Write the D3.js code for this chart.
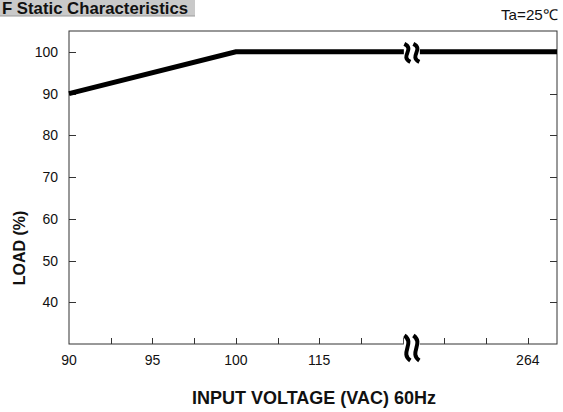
<!DOCTYPE html>
<html>
<head>
<meta charset="utf-8">
<script src="https://cdn.jsdelivr.net/npm/d3@7"></script>
<style>
  body { margin: 0; background: #fff; }
  text { font-family: "Liberation Sans Narrow", "Liberation Sans", Arial, sans-serif; }
</style>
</head>
<body>
<div id="root"></div>
<script>
// x axis is not linear in volts: positions are tick slots, with a break after 115
const xTickSlots = [0, 1, 2, 3, 4, 5, 6, 7, 8, 9, 10, 11];
const xLabels = [{slot: 0, text: "90"}, {slot: 2, text: "95"}, {slot: 4, text: "100"},
                 {slot: 6, text: "115"}, {slot: 11, text: "264"}];
const xBreakSlot = 8.22;
const yTicks = [40, 50, 60, 70, 80, 90, 100];
// load curve (slot, load %)
const curveSlots = [0, 4, 11.7];
const curveLoad = [90, 100, 100];

const W = 563, H = 412;
const margin = {left: 69, right: 6, top: 31, bottom: 68};

const svg = d3.select('#root').append('svg')
  .attr('width', W).attr('height', H);

const x = d3.scaleLinear().domain([0, 11.7]).range([margin.left, W - margin.right]);
const y = d3.scaleLinear().domain([30, 105]).range([H - margin.bottom, margin.top]);

// title tab
svg.append('rect').attr('x', 0).attr('y', 0).attr('width', 195).attr('height', 16)
  .attr('fill', '#c9c9c9');
svg.append('line').attr('x1', 0).attr('x2', 195).attr('y1', 16).attr('y2', 16)
  .attr('stroke', '#9a9a9a');
svg.append('text').attr('x', 2).attr('y', 14)
  .attr('font-size', 17).attr('font-weight', 'bold').attr('fill', '#111')
  .attr('textLength', 186).attr('lengthAdjust', 'spacingAndGlyphs')
  .text('F Static Characteristics');

svg.append('text').attr('x', 558).attr('y', 20).attr('text-anchor', 'end')
  .attr('font-size', 15).attr('fill', '#111')
  .attr('textLength', 57).attr('lengthAdjust', 'spacingAndGlyphs')
  .text('Ta=25\u2103');

// frame
svg.append('rect')
  .attr('x', x(0)).attr('y', y(105))
  .attr('width', x(11.7) - x(0)).attr('height', y(30) - y(105))
  .attr('fill', 'none').attr('stroke', '#333').attr('stroke-width', 1);

// ticks inward
const g = svg.append('g').attr('stroke', '#333').attr('stroke-width', 1);
g.selectAll('.yl').data(yTicks).enter().append('line')
  .attr('x1', x(0)).attr('x2', x(0) + 7)
  .attr('y1', d => Math.round(y(d)) + 0.5).attr('y2', d => Math.round(y(d)) + 0.5);
g.selectAll('.yr').data(yTicks).enter().append('line')
  .attr('x1', x(11.7)).attr('x2', x(11.7) - 7)
  .attr('y1', d => Math.round(y(d)) + 0.5).attr('y2', d => Math.round(y(d)) + 0.5);
g.selectAll('.xb').data(xTickSlots.slice(1)).enter().append('line')
  .attr('x1', d => Math.round(x(d)) + 0.5).attr('x2', d => Math.round(x(d)) + 0.5)
  .attr('y1', y(30)).attr('y2', y(30) - 6);

// tick labels
svg.selectAll('.ylab').data(yTicks).enter().append('text')
  .attr('x', x(0) - 11).attr('y', d => y(d) + 5)
  .attr('text-anchor', 'end').attr('font-size', 14).attr('fill', '#111')
  .text(d => d);
svg.selectAll('.xlab').data(xLabels).enter().append('text')
  .attr('x', d => x(d.slot)).attr('y', y(30) + 21)
  .attr('text-anchor', 'middle').attr('font-size', 14).attr('fill', '#111')
  .text(d => d.text);

// load line
const line = d3.line().x(d => x(d[0])).y(d => y(d[1]));
svg.append('path')
  .datum(d3.zip(curveSlots, curveLoad))
  .attr('d', line)
  .attr('fill', 'none').attr('stroke', '#000').attr('stroke-width', 5)
  .attr('stroke-linejoin', 'miter');

// axis break marks
function breakMark(cx, cy, h) {
  const bg = svg.append('g');
  bg.append('rect').attr('x', cx - 8).attr('y', cy - h / 2).attr('width', 16).attr('height', h)
    .attr('fill', '#fff');
  [-4.5, 4.5].forEach(dx => {
    const x0 = cx + dx;
    bg.append('path')
      .attr('d', `M${x0 - 3},${cy - h / 2} C${x0 + 8},${cy - h / 5} ${x0 - 8},${cy + h / 5} ${x0 + 3},${cy + h / 2}`)
      .attr('fill', 'none').attr('stroke', '#000').attr('stroke-width', 4);
  });
}
breakMark(x(xBreakSlot), y(100) + 1, 18);
breakMark(x(xBreakSlot), y(30) + 4, 25);

// axis titles
svg.append('text').attr('x', (x(0) + x(11.7)) / 2 + 1).attr('y', 404)
  .attr('text-anchor', 'middle').attr('font-size', 18).attr('font-weight', 'bold')
  .attr('fill', '#111').text('INPUT VOLTAGE (VAC) 60Hz');
svg.append('text')
  .attr('transform', `translate(25, ${y(53)}) rotate(-90)`)
  .attr('text-anchor', 'middle').attr('font-size', 16).attr('font-weight', 'bold')
  .attr('fill', '#111').text('LOAD (%)');
</script>
</body>
</html>
